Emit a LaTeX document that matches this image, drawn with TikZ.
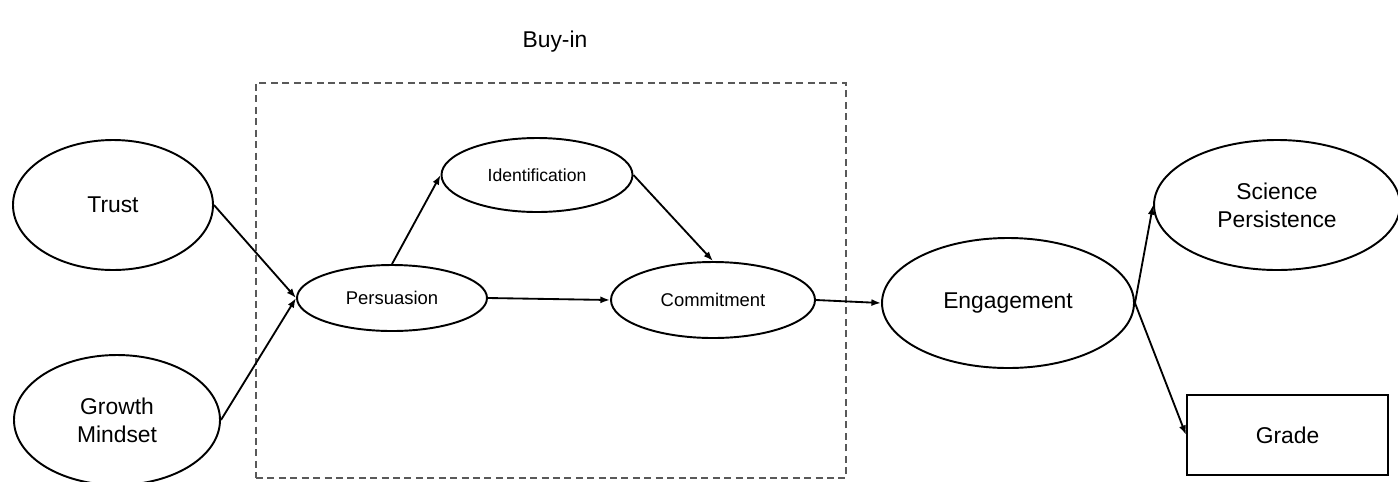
\documentclass[tikz,border=0pt]{standalone}
\usepackage{fontspec}
\setmainfont{Liberation Sans}
\usetikzlibrary{shapes.geometric,arrows.meta}
\begin{document}
\begin{tikzpicture}[x=0.02cm,y=-0.02cm,
  ell/.style={draw,ellipse,line width=1.1pt,inner sep=0pt,align=center},
  big/.style={font=\fontsize{13}{16}\selectfont},
  small/.style={font=\fontsize{10.5}{13}\selectfont},
  arr/.style={-{Latex[length=5.5pt,width=4pt]},line width=1.05pt},
  buybox/.style={draw=black!65,dashed,dash pattern=on 4pt off 2.5pt,line width=0.8pt}]
\useasboundingbox (0,0) rectangle (1398,481);
\node[buybox,minimum width=590*0.02cm,minimum height=395*0.02cm,inner sep=0pt] (box) at (551,280.5) {};
\node[big] (buyin) at (555,42) {Buy-in};
\node[ell,big,minimum width=200*0.02cm,minimum height=130*0.02cm] (trust) at (113,205) {Trust};
\node[ell,big,minimum width=206*0.02cm,minimum height=130*0.02cm] (growth) at (117,420) {Growth\\Mindset};
\node[ell,small,minimum width=190*0.02cm,minimum height=66*0.02cm] (pers) at (392,298) {Persuasion};
\node[ell,font=\fontsize{10}{12}\selectfont,minimum width=191*0.02cm,minimum height=74*0.02cm] (ident) at (537,175) {Identification};
\node[ell,small,minimum width=204*0.02cm,minimum height=76*0.02cm] (commit) at (713,300) {Commitment};
\node[ell,big,minimum width=252*0.02cm,minimum height=130*0.02cm] (eng) at (1008,303) {Engagement};
\node[ell,big,minimum width=246*0.02cm,minimum height=130*0.02cm] (sci) at (1277,205) {Science\\Persistence};
\node[draw,line width=1.1pt,big,minimum width=201*0.02cm,minimum height=80*0.02cm,inner sep=0pt] (grade) at (1287.5,435) {Grade};
\draw[arr] (trust.east) -- (pers.west);
\draw[arr] (growth.east) -- (pers.west);
\draw[arr] (pers.north) -- (ident.west);
\draw[arr] (ident.east) -- (commit.north);
\draw[arr] (pers.east) -- (commit.west);
\draw[arr] (commit.east) -- (eng.west);
\draw[arr] (eng.east) -- (sci.west);
\draw[arr] (eng.east) -- (grade.west);
\end{tikzpicture}
\end{document}
